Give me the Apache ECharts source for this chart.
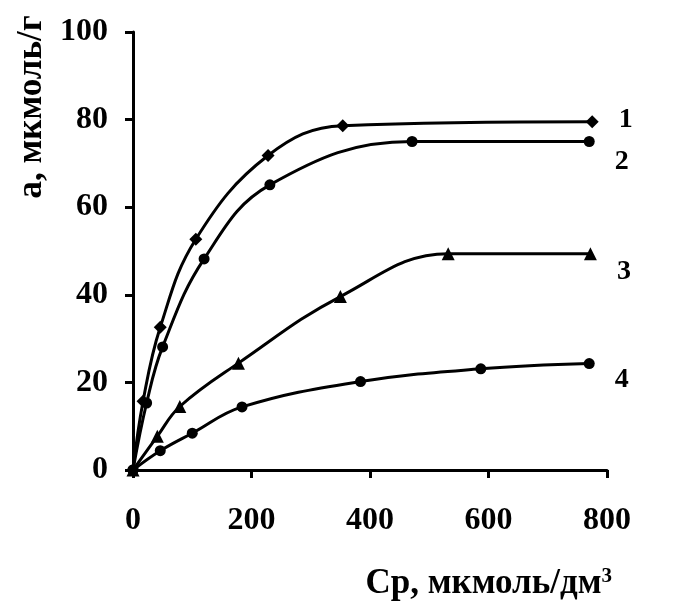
<!DOCTYPE html>
<html>
<head>
<meta charset="utf-8">
<script src="https://cdn.jsdelivr.net/npm/echarts@6/dist/echarts.min.js"></script>
<style>
  html, body { margin: 0; padding: 0; background: #fff; }
  #main { width: 676px; height: 602px; }
</style>
</head>
<body>
<div id="main"></div>
<script type="text/javascript">
// data
var x1 = [0, 17, 46, 106, 228, 354, 775];
var y1 = [0, 15.7, 32.6, 52.7, 71.8, 78.6, 79.5];
var x2 = [0, 23, 50, 120, 231, 471, 770];
var y2 = [0, 15.3, 28.1, 48.2, 65.1, 75.0, 75.0];
var x3 = [0, 41, 79, 178, 350, 532, 772];
var y3 = [0, 7.7, 14.5, 24.4, 39.6, 49.4, 49.4];
var x4 = [0, 46, 100, 184, 384, 587, 770];
var y4 = [0, 4.4, 8.4, 14.4, 20.2, 23.1, 24.3];
var names = ['1', '2', '3', '4'];
var symbols = ['diamond', 'circle', 'triangle', 'circle'];

var FONT = '"Liberation Serif", "Times New Roman", serif';

function pairs(xs, ys) {
    var out = [];
    for (var i = 0; i < xs.length; i++) out.push([xs[i], ys[i]]);
    return out;
}

function makeSeries(idx, xs, ys, size, dy) {
    var last = xs.length - 1;
    return {
        type: 'line',
        name: names[idx],
        data: pairs(xs, ys),
        smooth: 0.4,
        symbol: symbols[idx],
        symbolSize: size,
        showAllSymbol: true,
        lineStyle: { color: '#000', width: 3 },
        itemStyle: { color: '#000' },
        label: {
            show: true,
            position: 'right',
            distance: 20,
            offset: [0, dy],
            color: '#000',
            fontFamily: FONT,
            fontWeight: 'bold',
            fontSize: 28,
            formatter: function (p) { return p.dataIndex === last ? names[idx] : ''; }
        },
        z: 3
    };
}

var chart = echarts.init(document.getElementById('main'));
var option = {
    animation: false,
    backgroundColor: '#fff',
    grid: { left: 133, right: 69, top: 32, bottom: 132 },
    xAxis: {
        type: 'value',
        min: 0, max: 800, interval: 200,
        splitLine: { show: false },
        axisLine: { show: true, onZero: false, lineStyle: { color: '#000', width: 3 } },
        axisTick: { show: true, inside: false, length: 8, lineStyle: { color: '#000', width: 3 } },
        axisLabel: { margin: 35, color: '#000', fontFamily: FONT, fontWeight: 'bold', fontSize: 32 }
    },
    yAxis: {
        type: 'value',
        min: 0, max: 100, interval: 20,
        splitLine: { show: false },
        axisLine: { show: true, onZero: false, lineStyle: { color: '#000', width: 3 } },
        axisTick: { show: true, inside: false, length: 8, lineStyle: { color: '#000', width: 3 } },
        axisLabel: { margin: 25, color: '#000', fontFamily: FONT, fontWeight: 'bold', fontSize: 32 }
    },
    graphic: [
        {
            type: 'text',
            x: 32, y: 107,
            rotation: Math.PI / 2,
            style: {
                text: 'а, мкмоль/г',
                fill: '#000',
                font: 'bold 35px ' + FONT,
                textAlign: 'center',
                textVerticalAlign: 'middle'
            }
        },
        {
            type: 'text',
            x: 612, y: 584,
            style: {
                text: '{a|Ср, мкмоль/дм}{s|3}',
                fill: '#000',
                textAlign: 'right',
                textVerticalAlign: 'middle',
                rich: {
                    a: { fontFamily: FONT, fontWeight: 'bold', fontSize: 35, fill: '#000' },
                    s: { fontFamily: FONT, fontWeight: 'bold', fontSize: 21, fill: '#000', verticalAlign: 'top' }
                }
            }
        }
    ],
    series: [
        makeSeries(0, x1, y1, 13, -2),
        makeSeries(1, x2, y2, 11, 20),
        makeSeries(2, x3, y3, 13, 18),
        makeSeries(3, x4, y4, 11, 16)
    ]
};
chart.setOption(option);
</script>
</body>
</html>
